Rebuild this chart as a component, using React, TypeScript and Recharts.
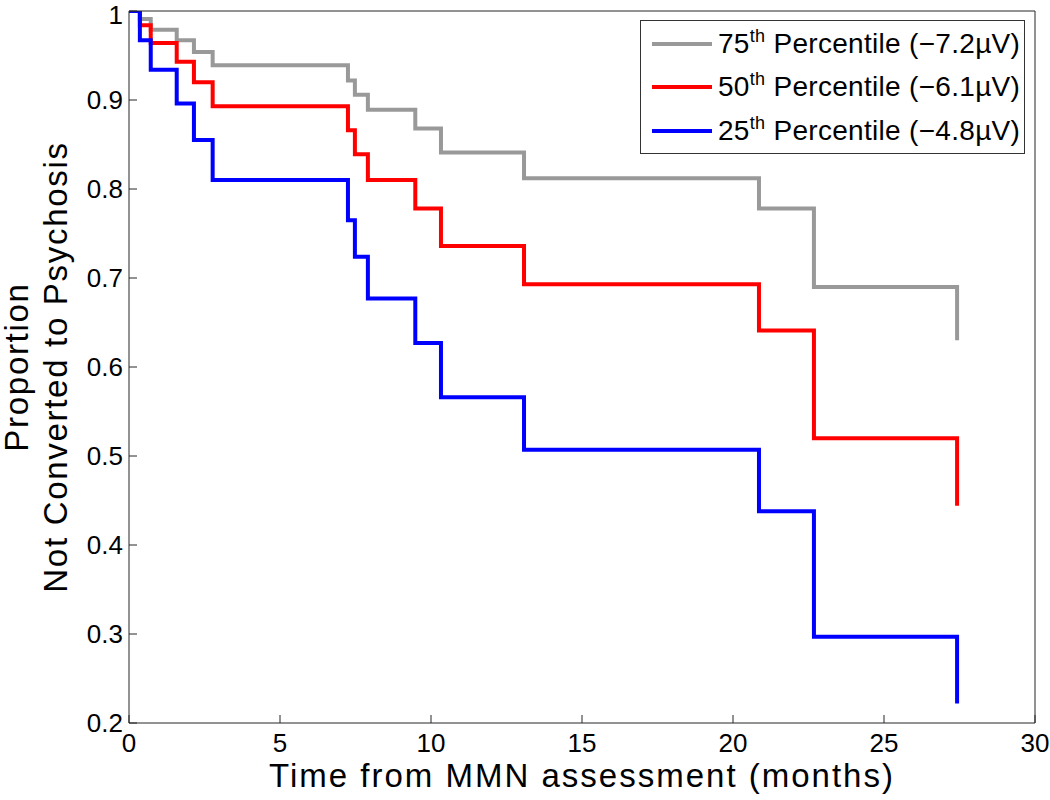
import React from 'react';
import { LineChart, Line, XAxis, YAxis } from 'recharts';

const times = [0, 0.36, 0.72, 1.58, 2.15, 2.77, 7.25, 7.48, 7.91, 9.48, 10.33, 13.08, 20.86, 22.68, 27.42];
const p75 = [1, 0.991, 0.979, 0.967, 0.954, 0.939, 0.922, 0.906, 0.889, 0.868, 0.841, 0.812, 0.778, 0.690, 0.630];
const p50 = [1, 0.984, 0.964, 0.943, 0.920, 0.893, 0.866, 0.839, 0.810, 0.778, 0.736, 0.693, 0.641, 0.520, 0.444];
const p25 = [1, 0.967, 0.934, 0.896, 0.855, 0.810, 0.765, 0.724, 0.677, 0.627, 0.566, 0.507, 0.438, 0.297, 0.222];

const xTicks = [0, 5, 10, 15, 20, 25, 30];
const yTicks = [0.2, 0.3, 0.4, 0.5, 0.6, 0.7, 0.8, 0.9, 1];

const series = [
  { key: 'p75', pct: '75', val: '(−7.2µV)', color: '#999999' },
  { key: 'p50', pct: '50', val: '(−6.1µV)', color: '#ff0000' },
  { key: 'p25', pct: '25', val: '(−4.8µV)', color: '#0000ff' },
];

const data = times.map((t, i) => ({ t, p75: p75[i], p50: p50[i], p25: p25[i] }));

const FONT = '"Liberation Sans", Arial, Helvetica, sans-serif';
const AXIS = '#262626';

const YLabel = (props: any) => {
  const vb = props.viewBox || {};
  const cy = vb.y + vb.height / 2;
  const bx = vb.x + 28;
  return (
    <text
      transform={`rotate(-90, ${bx}, ${cy})`}
      x={bx}
      y={cy}
      textAnchor="middle"
      fontFamily={FONT}
      fontSize={33}
      letterSpacing={1.7}
      fill="#000"
    >
      <tspan x={bx} dy={0}>Proportion</tspan>
      <tspan x={bx} dy={39}>Not Converted to Psychosis</tspan>
    </text>
  );
};

const LegendBox = () => (
  <div
    style={{
      position: 'absolute',
      left: 640,
      top: 20,
      width: 385,
      height: 134,
      boxSizing: 'border-box',
      border: '1.5px solid #333',
      background: '#fff',
      paddingTop: 1,
      paddingLeft: 11,
      fontFamily: FONT,
      fontSize: 28,
      letterSpacing: 0.3,
      color: '#000',
    }}
  >
    {series.map((s) => (
      <div key={s.key} style={{ display: 'flex', alignItems: 'center', whiteSpace: 'nowrap', height: 43.5 }}>
        <span style={{ display: 'inline-block', width: 60, height: 4, background: s.color, marginRight: 6, flex: 'none' }} />
        <span>
          {s.pct}
          <sup style={{ fontSize: 18, lineHeight: 0, verticalAlign: '0.6em' }}>th</sup> Percentile {s.val}
        </span>
      </div>
    ))}
  </div>
);

export default function App() {
  return (
    <div style={{ position: 'absolute', left: 0, top: 0, width: 1050, height: 800, background: '#fff' }}>
      <LineChart
        width={1050}
        height={800}
        data={data}
        margin={{ top: 10, right: 14, bottom: 0, left: 0 }}
      >
        <XAxis
          dataKey="t"
          type="number"
          domain={[0, 30]}
          ticks={xTicks}
          allowDataOverflow
          height={77}
          stroke={AXIS}
          tickSize={-8}
          tickMargin={19}
          tick={{ fontFamily: FONT, fontSize: 26, fill: '#000' }}
          label={{ value: 'Time from MMN assessment (months)', position: 'insideBottom', offset: 13, fontFamily: FONT, fontSize: 33, letterSpacing: 2, fill: '#000' }}
        />
        <XAxis
          xAxisId="top"
          dataKey="t"
          orientation="top"
          type="number"
          domain={[0, 30]}
          ticks={xTicks}
          allowDataOverflow
          height={1}
          stroke={AXIS}
          tickSize={-8}
          tick={false}
        />
        <YAxis
          type="number"
          domain={[0.2, 1]}
          ticks={yTicks}
          allowDataOverflow
          width={129}
          stroke={AXIS}
          tickSize={-8}
          tickMargin={14}
          tickFormatter={(v: number) => (v === 1 ? '1' : v.toFixed(1))}
          tick={{ fontFamily: FONT, fontSize: 26, fill: '#000' }}
          label={<YLabel />}
        />
        <YAxis
          yAxisId="right"
          orientation="right"
          type="number"
          domain={[0.2, 1]}
          ticks={yTicks}
          allowDataOverflow
          width={1}
          stroke={AXIS}
          tickSize={-8}
          tick={false}
        />
        {series.map((s, i) => (
          <Line
            key={s.key}
            xAxisId={i === 0 ? 'top' : 0}
            yAxisId={i === 0 ? 'right' : 0}
            type="stepAfter"
            dataKey={s.key}
            stroke={s.color}
            strokeWidth={4}
            dot={false}
            activeDot={false}
            isAnimationActive={false}
          />
        ))}
      </LineChart>
      <LegendBox />
    </div>
  );
}
